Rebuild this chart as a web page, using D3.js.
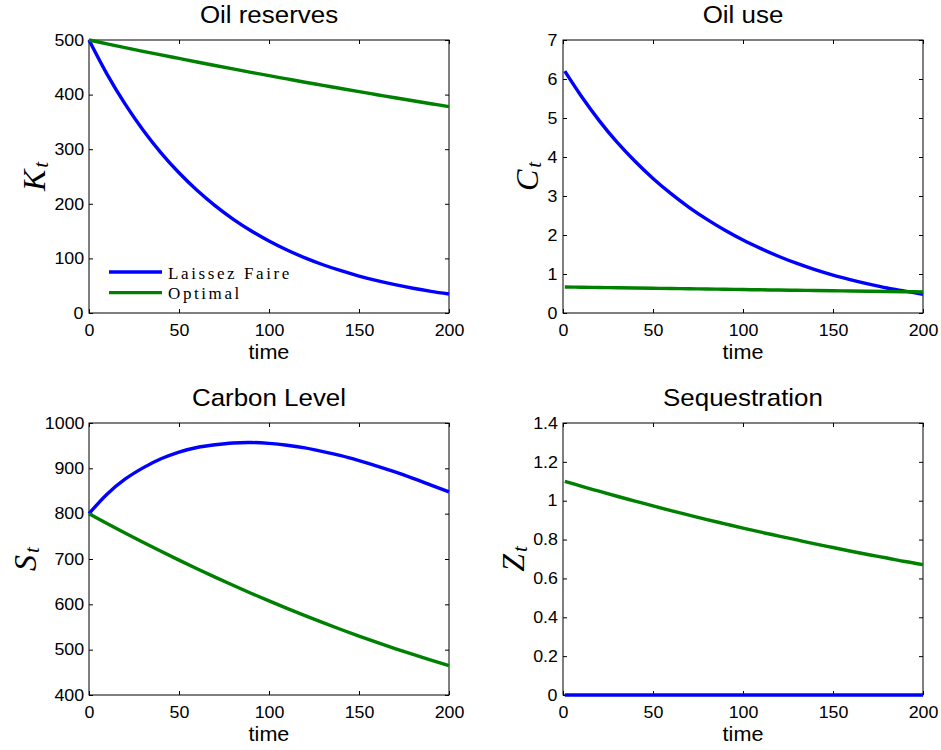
<!DOCTYPE html>
<html><head><meta charset="utf-8">
<script src="https://cdn.jsdelivr.net/npm/d3@7"></script>
<style>
body{margin:0;background:#fff;}
svg text{font-family:"Liberation Sans",Arial,Helvetica,sans-serif;fill:#000;}
svg text.st{transform-box:fill-box;transform-origin:center;transform:scaleX(1.08);}
</style></head>
<body>
<svg id="chart" width="941" height="750"></svg>
<script>
// ---------- data ----------
const timeStock = [0,10,20,30,40,50,60,70,80,90,100,110,120,130,140,150,160,170,180,190,200];
const timeFlow  = [1,10,20,30,40,50,60,70,80,90,100,110,120,130,140,150,160,170,180,190,200];

const reservesLaissez = [500,437.6,383,335.2,293.4,256.8,224.7,196.7,172.1,150.7,131.9,115.4,101,88.4,77.4,67.7,59.3,51.9,45.4,39.7,34.8];
const reservesOptimal = [500,493,486.1,479.3,472.7,466.2,459.7,453.3,447,440.8,434.7,428.7,422.7,416.9,411.1,405.4,399.8,394.2,388.7,383.3,378];

const useLaissez = [6.2,5.57,4.94,4.38,3.89,3.45,3.06,2.71,2.4,2.12,1.87,1.65,1.45,1.27,1.11,0.97,0.85,0.74,0.64,0.56,0.48];
const useOptimal = [0.668,0.662,0.655,0.648,0.641,0.634,0.627,0.621,0.614,0.608,0.601,0.595,0.588,0.582,0.576,0.57,0.564,0.558,0.552,0.546,0.54];

const carbonLaissez = [800,843,876,901,921,936,946,952,956,957,955,951,945,937,928,917,905,892,878,863,848];
const carbonOptimal = [800,778.5,757.5,737,717,697.5,678.5,660,642,624.5,607.5,591,575,559.5,544.5,530,516,502.5,489.5,477,465];

const seqLaissez = [0,0,0,0,0,0,0,0,0,0,0,0,0,0,0,0,0,0,0,0,0];
const seqOptimal = [1.1,1.075,1.049,1.023,0.998,0.973,0.949,0.926,0.903,0.881,0.859,0.838,0.818,0.798,0.778,0.759,0.74,0.722,0.705,0.687,0.671];

const timeTicks = [0,50,100,150,200];
const reservesTicks = [0,100,200,300,400,500];
const useTicks = [0,1,2,3,4,5,6,7];
const carbonTicks = [400,500,600,700,800,900,1000];
const seqTicks = [0,0.2,0.4,0.6,0.8,1,1.2,1.4];

const seriesNames = ["Laissez Faire","Optimal"];
const seriesColors = ["#0000ff","#008000"];

// ---------- layout ----------
const svg = d3.select("#chart");
const panels = [
  {title:"Oil reserves", sym:"K", box:[89,449,40,313], t:timeStock, ys:[reservesLaissez,reservesOptimal], dom:[0,500], ticks:reservesTicks, legend:true},
  {title:"Oil use", sym:"C", box:[563,923,40,313], t:timeFlow, ys:[useLaissez,useOptimal], dom:[0,7], ticks:useTicks},
  {title:"Carbon Level", sym:"S", box:[89,449,423,695], t:timeStock, ys:[carbonLaissez,carbonOptimal], dom:[400,1000], ticks:carbonTicks},
  {title:"Sequestration", sym:"Z", box:[563,923,423,695], t:timeFlow, ys:[seqLaissez,seqOptimal], dom:[0,1.4], ticks:seqTicks}
];
const fmt = v => String(+v.toFixed(2));

panels.forEach(p => {
  const [x0,x1,y0,y1] = p.box;
  const W = x1-x0, H = y1-y0;
  const g = svg.append("g").attr("transform",`translate(${x0},${y0})`);
  const x = d3.scaleLinear().domain([0,200]).range([0,W]);
  const y = d3.scaleLinear().domain(p.dom).range([H,0]);

  g.append("rect").attr("width",W).attr("height",H).attr("fill","none").attr("stroke","#000").attr("stroke-width",1);

  const styleAxis = sel => { sel.select(".domain").remove(); sel.selectAll("line").attr("stroke","#000"); };
  const yl = g.append("g").call(d3.axisLeft(y).tickValues(p.ticks).tickFormat(fmt).tickSizeInner(-4).tickSizeOuter(0).tickPadding(6)).call(styleAxis);
  yl.selectAll("text").attr("class","st").style("font-size","16.5px");
  g.append("g").attr("transform",`translate(${W},0)`).call(d3.axisRight(y).tickValues(p.ticks).tickFormat("").tickSizeInner(-4).tickSizeOuter(0)).call(styleAxis);
  const xl = g.append("g").attr("transform",`translate(0,${H})`).call(d3.axisBottom(x).tickValues(timeTicks).tickFormat(fmt).tickSizeInner(-4).tickSizeOuter(0).tickPadding(11)).call(styleAxis);
  xl.selectAll("text").attr("class","st").style("font-size","16.5px");
  g.append("g").call(d3.axisTop(x).tickValues(timeTicks).tickFormat("").tickSizeInner(-4).tickSizeOuter(0)).call(styleAxis);
  svg.selectAll("g.tick text").attr("font-family",null).attr("font-size",null);

  p.ys.forEach((vals,i) => {
    const line = d3.line().x((d,k)=>x(p.t[k])).y(d=>y(d)).curve(d3.curveCatmullRom.alpha(0.5));
    g.append("path").datum(vals).attr("d",line).attr("fill","none")
      .attr("stroke",seriesColors[i]).attr("stroke-width",3.4).attr("stroke-linejoin","round");
  });

  svg.append("text").attr("class","st").attr("x",x0+W/2).attr("y",y0-17).attr("text-anchor","middle")
    .style("font-size","24px").text(p.title);
  svg.append("text").attr("class","st").attr("x",x0+W/2).attr("y",y1+46).attr("text-anchor","middle")
    .style("font-size","20px").text("time");

  let minX = Infinity;
  yl.selectAll("text").each(function(){ const b=this.getBoundingClientRect(); minX=Math.min(minX,b.left); });
  const lab = svg.append("g").attr("transform",`translate(${minX-9},${y0+H/2}) rotate(-90)`)
    .append("text").attr("text-anchor","middle")
    .style("font-family","'Liberation Serif','Times New Roman',serif").style("font-style","italic").style("font-size","32px");
  lab.append("tspan").text(p.sym);
  lab.append("tspan").attr("dx",2).attr("dy",3).style("font-size","21px").text("t");

  if (p.legend) {
    const lg = g.append("g").attr("transform",`translate(20,${H-41})`);
    seriesNames.forEach((n,i)=>{
      lg.append("line").attr("x1",0).attr("x2",53).attr("y1",i*20.6).attr("y2",i*20.6)
        .attr("stroke",seriesColors[i]).attr("stroke-width",3.4);
      lg.append("text").attr("x",59).attr("y",i*20.6+6.5)
        .style("font-family","'Liberation Serif','Times New Roman',serif").style("font-size","17px")
        .style("letter-spacing","2.6px").text(n);
    });
  }
});
</script>
</body></html>
